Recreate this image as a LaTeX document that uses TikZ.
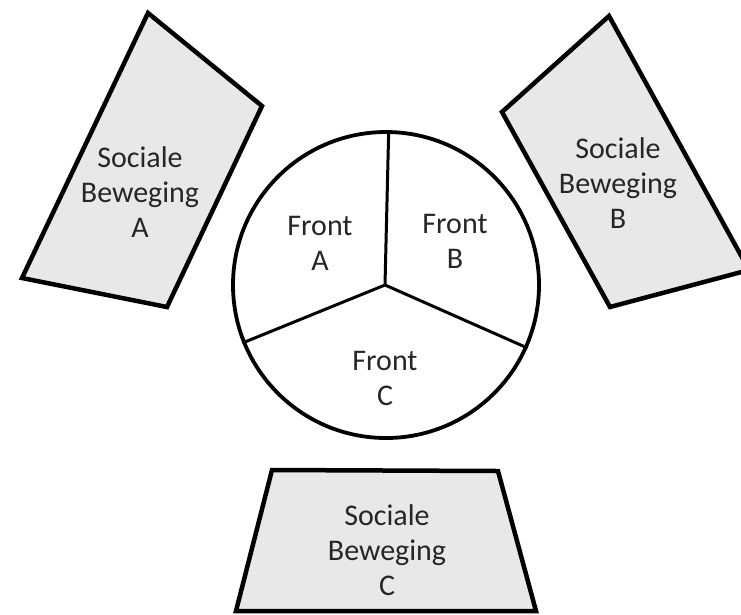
\documentclass[tikz,border=0pt]{standalone}
\usepackage{fontspec}
\setmainfont{Carlito}

\tikzset{
	vlak/.style={draw, line width=4.5pt, line join=miter, fill=gray!18},
	tekst/.style={align=center, text=black!85, font=\fontsize{30}{35}\selectfont},
}

\begin{document}
\begin{tikzpicture}[x=1pt, y=-1pt]
				\useasboundingbox (0,0) rectangle (741,614);
				\clip (0,0) rectangle (741,614);
				% de drie bewegingen
				\draw[vlak] (148,13) -- (262,106) -- (167,307) -- (22,278) -- cycle;
				\draw[vlak] (609,16) -- (749,270) -- (610,307) -- (502,112) -- cycle;
				\draw[vlak] (272,470) -- (498,471) -- (536,611) -- (236,611) -- cycle;
				\node[tekst] (SA)at(140, 192) {Sociale\\Beweging\\A};
				\node[tekst] (SB)at(618, 183) {Sociale\\Beweging\\B};
				\node[tekst] (SC)at(387, 550) {Sociale\\Beweging\\C};
				% het front
				\node[draw, circle, line width=3.8pt, minimum size=306pt, inner sep=0pt] (ring)at(386, 285) {};
				\coordinate (mid)at(385, 285);
				\draw[line width=3pt] (mid) -- (ring.89);
				\draw[line width=3pt] (mid) -- (ring.202);
				\draw[line width=3pt] (mid) -- (ring.336);
				\node[tekst] (FA)at(320, 243) {Front\\A};
				\node[tekst] (FB)at(455, 241) {Front\\B};
				\node[tekst] (FC)at(385, 378) {Front\\C};
			\end{tikzpicture}
\end{document}
